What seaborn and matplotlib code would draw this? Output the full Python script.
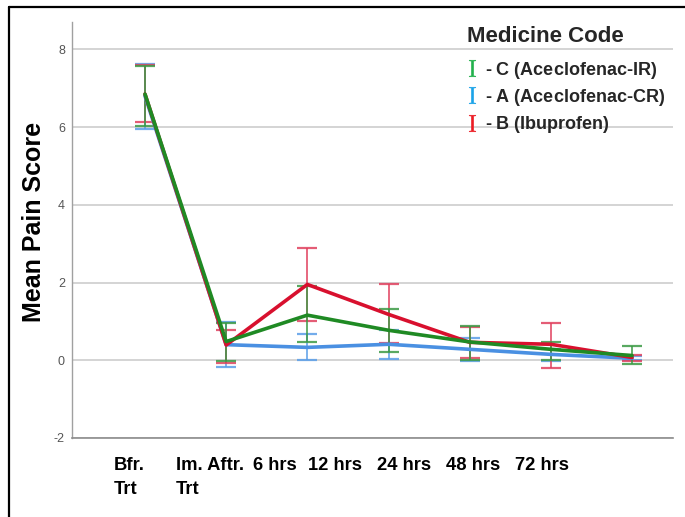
import numpy as np
import pandas as pd
import matplotlib
matplotlib.use("Agg")
import matplotlib.pyplot as plt
from matplotlib.lines import Line2D
import seaborn as sns

# ---- data ----
time_points = ["Bfr. Trt", "Im. Aftr. Trt", "6 hrs", "12 hrs", "24 hrs", "48 hrs", "72 hrs"]
tick_labels = ["Bfr.\nTrt", "Im. Aftr.\nTrt", "6 hrs", "12 hrs", "24 hrs", "48 hrs", "72 hrs"]

# C (Aceclofenac-IR)
c_mean = [6.85, 0.48, 1.16, 0.77, 0.47, 0.28, 0.12]
c_low = [6.02, -0.02, 0.47, 0.20, 0.01, 0.00, -0.10]
c_high = [7.57, 0.97, 1.91, 1.31, 0.87, 0.48, 0.37]

# A (Aceclofenac-CR)
a_mean = [6.80, 0.40, 0.33, 0.41, 0.28, 0.15, 0.05]
a_low = [5.94, -0.18, 0.00, 0.04, -0.02, -0.02, 0.00]
a_high = [7.63, 0.98, 0.67, 0.77, 0.58, 0.30, 0.10]

# B (Ibuprofen)
b_mean = [6.85, 0.39, 1.95, 1.18, 0.46, 0.41, 0.07]
b_low = [6.14, -0.08, 1.01, 0.45, 0.05, -0.19, -0.02]
b_high = [7.61, 0.78, 2.88, 1.95, 0.85, 0.97, 0.13]

groups = ["A", "B", "C"]  # drawing order: blue, red, green on top
legend_order = ["C", "A", "B"]
legend_names = {"C": "Aceclofenac-IR", "A": "Aceclofenac-CR", "B": "Ibuprofen"}
line_colors = {"A": "#4a90e2", "B": "#d8102e", "C": "#1f8a24"}
bar_colors = {"A": "#5a9ee8", "B": "#e0405e", "C": "#3c9a45"}
marker_colors = {"A": "#1aa3e8", "B": "#ec1c24", "C": "#22b14c"}

series = {
    "A": (a_mean, a_low, a_high),
    "B": (b_mean, b_low, b_high),
    "C": (c_mean, c_low, c_high),
}

rows = []
for g in groups:
    m, lo, hi = series[g]
    for i, t in enumerate(time_points):
        rows.append({"time": t, "idx": i, "group": g, "mean": m[i], "low": lo[i], "high": hi[i]})
df = pd.DataFrame(rows)

# ---- style ----
sns.set_theme(style="white")
plt.rcParams["font.family"] = ["Liberation Sans", "DejaVu Sans"]
plt.rcParams["axes.unicode_minus"] = False
plt.rcParams["mathtext.fontset"] = "custom"
plt.rcParams["mathtext.rm"] = "Liberation Serif"
plt.rcParams["mathtext.bf"] = "Liberation Sans:bold"

fig = plt.figure(figsize=(6.85, 5.17), dpi=100)
ax = fig.add_axes([0.105, 0.153, 0.877, 0.804])

# error bars first (thin, lighter)
for g in groups:
    d = df[df["group"] == g]
    ax.errorbar(d["idx"], d["mean"],
                yerr=[d["mean"] - d["low"], d["high"] - d["mean"]],
                fmt="none", ecolor=bar_colors[g], elinewidth=1.3,
                capsize=7.5, capthick=1.6, alpha=0.85, zorder=3)

# mean lines
sns.lineplot(data=df, x="idx", y="mean", hue="group", hue_order=groups,
             palette=line_colors, linewidth=2.6, legend=False, ax=ax, zorder=4)

ax.set_xlim(-0.9, 6.5)
ax.set_ylim(-2, 8.7)
ax.set_yticks([-2, 0, 2, 4, 6, 8])
ax.yaxis.grid(True, color="#d4d4d4", linewidth=1.4)
ax.set_axisbelow(True)
for s in ["top", "right"]:
    ax.spines[s].set_visible(False)
ax.spines["left"].set_color("#a0a0a0")
ax.spines["bottom"].set_color("#8c8c8c")
ax.spines["left"].set_linewidth(1.0)
ax.spines["bottom"].set_linewidth(1.2)
ax.tick_params(axis="y", length=0, pad=5, labelsize=9, labelcolor="#555555")

# x tick labels were placed by hand in the original, spaced tighter than the points
label_pos = [-0.2, 0.8, 1.6, 2.34, 3.19, 4.04, 4.89]
ax.set_xticks(label_pos)
ax.set_xticklabels(tick_labels, fontsize=13.2, fontweight="bold", color="black",
                   multialignment="left", linespacing=1.55)
ax.tick_params(axis="x", length=0, pad=14)

ax.set_xlabel("")
ax.set_ylabel("Mean Pain Score", fontsize=18, fontweight="bold", color="black")
ax.yaxis.set_label_coords(-0.043, 0.52)

# legend
handles = [Line2D([], [], color=marker_colors[g], marker=r"$\mathrm{I}$",
                  linestyle="none", markersize=12, markeredgewidth=0.3)
           for g in legend_order]
labels = [r"- $\mathbf{%s}$ (%s)" % (g, legend_names[g]) for g in legend_order]
leg = ax.legend(handles, labels, title="Medicine Code", frameon=False,
                loc="upper right", bbox_to_anchor=(1.005, 1.018),
                fontsize=13, title_fontsize=16, handlelength=0.6,
                handletextpad=0.4, labelspacing=0.34, alignment="left",
                borderaxespad=0.2)
leg.get_title().set_fontweight("bold")
for t in leg.get_texts():
    t.set_fontweight("bold")
# a bit more room between the title and the entries
leg._legend_box.sep = 0.34 * 13 + 5

# outer frame lines of the screenshot (top and left)
fig.add_artist(Line2D([0.013, 1.0], [0.987, 0.987], color="black", linewidth=1.6,
                      transform=fig.transFigure))
fig.add_artist(Line2D([0.013, 0.013], [0.0, 0.987], color="black", linewidth=1.6,
                      transform=fig.transFigure))

fig.savefig("out.png", dpi=100)
